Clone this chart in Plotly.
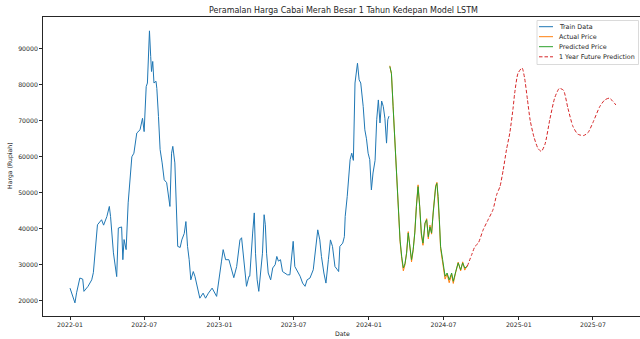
import pandas as pd
import plotly.graph_objects as go

# ---- data -------------------------------------------------------------
BASE_DATE = "2022-01-01"

# training series: day offset from BASE_DATE and price (Rupiah)
train_day = [0, 5, 12, 16, 24, 31, 34, 44, 53, 57, 63, 67, 77, 82, 90, 96, 99, 106, 114, 118,
             126, 129, 132, 137, 142, 148, 151, 156, 163, 171, 177, 181, 186, 189, 194, 197, 199,
             202, 205, 210, 212, 216, 220, 225, 230, 236, 242, 244, 248, 251, 256, 263, 269, 273,
             279, 283, 287, 291, 295, 301, 305, 312, 317, 325, 331, 338, 347, 358, 365, 370, 374,
             380, 388, 395, 400, 407, 415, 419, 426, 431, 437, 439, 446, 450, 453, 457, 461, 466,
             470, 474, 477, 480, 484, 490, 495, 501, 505, 509, 514, 519, 525, 531, 537, 541, 545,
             549, 555, 562, 568, 574, 579, 586, 594, 601, 605, 610, 614, 620, 625, 631, 636, 641,
             647, 653, 656, 659, 666, 670, 672, 677, 681, 684, 688, 692, 696, 702, 706, 710, 716,
             720, 724, 728, 732, 736, 740, 745, 749, 753, 757, 761, 765, 769, 773, 776, 779]
train_price = [23500, 21500, 19400, 22200, 26300, 26000, 22600, 24000, 25800, 27800, 35000, 41100,
               42500, 41000, 43400, 46200, 43400, 33300, 26700, 40200, 40500, 31400, 37000, 34200,
               47200, 54500, 60000, 61000, 66600, 67500, 70700, 67000, 79500, 80500, 95000, 87900,
               83700, 86500, 80500, 81000, 79000, 71200, 62000, 58300, 53600, 52800, 47600, 46200,
               61000, 62900, 58300, 35100, 34800, 36900, 38700, 42000, 35100, 31400, 25800, 28100,
               26800, 23000, 20700, 22100, 20700, 22100, 23500, 21200, 27800, 31000, 34200, 31400,
               31400, 28100, 26400, 29500, 36900, 37500, 30500, 24000, 26800, 26800, 38800, 44400,
               33200, 25800, 22600, 29500, 33200, 43900, 41100, 33200, 27700, 25800, 29100, 30000,
               32300, 31000, 31400, 28100, 27700, 27200, 27200, 33200, 36500, 29500, 28100, 26800,
               24900, 24000, 25800, 26300, 28600, 36900, 39700, 36900, 32300, 27700, 24900, 31400,
               36900, 35100, 29500, 28600, 28100, 35100, 36000, 37800, 43400, 49000, 56400, 59200,
               61000, 59000, 80500, 86000, 81400, 80500, 74000, 67500, 65000, 61000, 59200, 50800,
               55500, 59000, 70300, 75800, 69400, 75500, 74000, 70700, 63800, 70300, 71300]

# test window: actual prices and model predictions
test_day = [781, 785, 789, 793, 797, 801, 806, 810, 814, 818, 822, 826, 830, 834, 838, 842, 846,
            850, 854, 858, 862, 867, 871, 875, 879, 883, 887, 893, 896, 899, 902, 905, 910, 916,
            921, 926, 932, 936, 942, 948, 954, 959, 964, 970]
actual_price = [85300, 83000, 74200, 65400, 56600, 46800, 36500, 31800, 28300, 30000, 33400, 39200,
                35000, 30800, 34000, 39000, 46600, 52200, 46000, 38200, 35400, 41400, 42800, 37200,
                41000, 38500, 44800, 52000, 52900, 48600, 42000, 34500, 30800, 26000, 27400, 25000,
                27300, 24800, 27900, 30700, 28300, 30800, 28500, 29800]
predicted_price = [85100, 83200, 74000, 65600, 56400, 47100, 36900, 32300, 29100, 30300, 33200,
                   38800, 35100, 31400, 34200, 38800, 46200, 51700, 46200, 38800, 36000, 41600,
                   42500, 37800, 40500, 38800, 44400, 51700, 52600, 49000, 42500, 35100, 31400,
                   26800, 27700, 25800, 27700, 25400, 28100, 30500, 28600, 30500, 29100, 29500]

# one-year-ahead forecast
future_day = [970, 981, 989, 997, 1009, 1021, 1033, 1042, 1050, 1058, 1066, 1074, 1082, 1086,
              1094, 1104, 1110, 1117, 1124, 1133, 1143, 1151, 1160, 1172, 1184, 1195, 1205, 1216,
              1228, 1240, 1254, 1265, 1277, 1294, 1306, 1317, 1326, 1333]
future_price = [29500, 32800, 35100, 36000, 39700, 42500, 45300, 49500, 51700, 56400, 62000, 66600,
                73500, 77700, 83200, 84700, 82000, 76000, 70000, 65500, 62300, 61500, 63500, 70500,
                76500, 79000, 78500, 73500, 68500, 66300, 65900, 66700, 69500, 74000, 75800, 76300,
                75400, 74400]

x_ticks = ["2022-01-01", "2022-07-01", "2023-01-01", "2023-07-01",
           "2024-01-01", "2024-07-01", "2025-01-01", "2025-07-01"]
y_ticks = [20000, 30000, 40000, 50000, 60000, 70000, 80000, 90000]

series_names = ["Train Data", "Actual Price", "Predicted Price", "1 Year Future Prediction"]
series_colors = ["#1f77b4", "#ff7f0e", "#2ca02c", "#d62728"]


def to_dates(days):
    return pd.Timestamp(BASE_DATE) + pd.to_timedelta(days, unit="D")


# ---- figure -----------------------------------------------------------
W, H = 640, 339
L, R, T, B = 43, 640, 17, 316   # plot area in pixels
FONT = "DejaVu Sans"
INK = "#262626"
LW = 1.0

fig = go.Figure()
fig.add_trace(go.Scatter(x=to_dates(train_day), y=train_price, mode="lines",
                         name=series_names[0], line=dict(color=series_colors[0], width=LW)))
fig.add_trace(go.Scatter(x=to_dates(test_day), y=actual_price, mode="lines",
                         name=series_names[1], line=dict(color=series_colors[1], width=LW)))
fig.add_trace(go.Scatter(x=to_dates(test_day), y=predicted_price, mode="lines",
                         name=series_names[2], line=dict(color=series_colors[2], width=LW)))
fig.add_trace(go.Scatter(x=to_dates(future_day), y=future_price, mode="lines",
                         name=series_names[3],
                         line=dict(color=series_colors[3], width=LW, dash="3.5px,2px",
                                   shape="spline", smoothing=0.6)))


def px_x(p):
    return (p - L) / (R - L)


def px_y(p):
    return (B - p) / (B - T)


fig.update_layout(
    width=W, height=H,
    margin=dict(l=L, r=W - R, t=T, b=H - B),
    paper_bgcolor="white", plot_bgcolor="white",
    showlegend=False,
    font=dict(family=FONT, size=6.2, color=INK),
)
fig.update_xaxes(
    range=["2021-10-27", "2025-10-24"],
    tickvals=x_ticks, tickformat="%Y-%m",
    ticks="outside", ticklen=3, tickwidth=0.8, tickcolor=INK,
    showline=True, linecolor=INK, linewidth=0.8, mirror=True,
    showgrid=False, zeroline=False,
    tickfont=dict(family=FONT, size=6.2, color=INK),
)
fig.update_yaxes(
    range=[15750, 98850],
    tickvals=y_ticks, tickformat="d",
    ticks="outside", ticklen=3, tickwidth=0.8, tickcolor=INK,
    showline=True, linecolor=INK, linewidth=0.8,
    showgrid=False, zeroline=False,
    tickfont=dict(family=FONT, size=6.2, color=INK),
)

annotations = [
    dict(text="Peramalan Harga Cabai Merah Besar 1 Tahun Kedepan Model LSTM",
         x=px_x(343.5), y=px_y(10), xanchor="center", yanchor="middle",
         font=dict(family=FONT, size=8, color=INK)),
    dict(text="Date", x=px_x(342), y=px_y(333), xanchor="center", yanchor="middle",
         font=dict(family=FONT, size=6.2, color=INK)),
    dict(text="Harga (Rupiah)", x=px_x(10), y=px_y(166), xanchor="center", yanchor="middle",
         textangle=-90, font=dict(family=FONT, size=6.2, color=INK)),
]

# legend panel
shapes = [dict(type="rect", xref="paper", yref="paper",
               x0=px_x(537), x1=px_x(638.5), y0=px_y(64.5), y1=px_y(20.5),
               line=dict(color="#d0d0d0", width=0.8), fillcolor="rgba(255,255,255,0.85)")]
rows = [26.7, 36.7, 46.7, 56.8]
for name, color, row, dash in zip(series_names, series_colors, rows,
                                  ["solid", "solid", "solid", "3.5px,2px"]):
    shapes.append(dict(type="line", xref="paper", yref="paper",
                       x0=px_x(539), x1=px_x(553), y0=px_y(row), y1=px_y(row),
                       line=dict(color=color, width=LW, dash=dash)))
    annotations.append(dict(text=name, x=px_x(557), y=px_y(row), xanchor="left",
                            yanchor="middle", font=dict(family=FONT, size=6.4, color=INK)))

for a in annotations:
    a.setdefault("xref", "paper")
    a.setdefault("yref", "paper")
    a["showarrow"] = False

fig.update_layout(annotations=annotations, shapes=shapes)

fig.write_html("out.html")
